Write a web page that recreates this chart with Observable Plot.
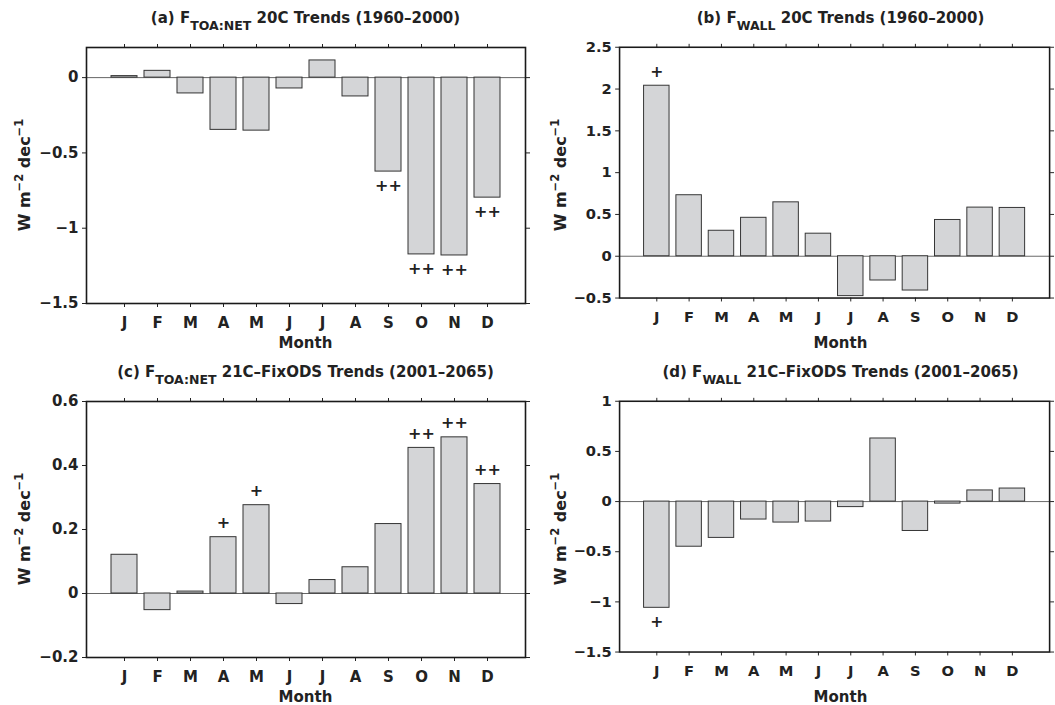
<!DOCTYPE html>
<html><head><meta charset="utf-8">
<script src="https://cdn.jsdelivr.net/npm/d3@7"></script>
<script src="https://cdn.jsdelivr.net/npm/@observablehq/plot@0.6"></script>
<style>
body{margin:0;background:#fff;}
#root{position:relative;width:1055px;height:705px;font-family:"DejaVu Sans",Arial,sans-serif;font-weight:bold;color:#222;overflow:hidden;background:#fff}
.title{position:absolute;font-size:15px;white-space:nowrap;transform:translate(-50%,-50%);line-height:1}
.title sub{font-size:12.5px;position:relative;top:7px;vertical-align:baseline}
.ylab{position:absolute;font-size:16px;white-space:nowrap;transform:translate(-50%,-50%) rotate(-90deg);line-height:1}
.ylab sup{font-size:11.5px;position:relative;top:-7px;vertical-align:baseline}
.xlab{position:absolute;font-size:15px;white-space:nowrap;transform:translate(-50%,-50%);line-height:1}
.panel{position:absolute}
</style>
</head><body><div id="root"></div>
<script>
// ---- data ----
const months = ["Jan","Feb","Mar","Apr","May","Jun","Jul","Aug","Sep","Oct","Nov","Dec"];
const monthLetters = ["J","F","M","A","M","J","J","A","S","O","N","D"];

const toaNet20C   = [0.01, 0.045, -0.105, -0.347, -0.352, -0.072, 0.114, -0.125, -0.624, -1.174, -1.181, -0.797];
const wall20C     = [2.04, 0.73, 0.305, 0.46, 0.645, 0.27, -0.477, -0.29, -0.41, 0.434, 0.582, 0.578];
const toaNet21C   = [0.121, -0.052, 0.006, 0.176, 0.276, -0.033, 0.042, 0.082, 0.217, 0.455, 0.488, 0.342];
const wall21C     = [-1.059, -0.45, -0.362, -0.179, -0.209, -0.199, -0.055, 0.629, -0.293, -0.02, 0.111, 0.13];

const sigToaNet20C = ["","","","","","","","","++","++","++","++"];
const sigWall20C   = ["+","","","","","","","","","","",""];
const sigToaNet21C = ["","","","+","+","","","","","++","++","++"];
const sigWall21C   = ["+","","","","","","","","","","",""];

const yDomainA = [-1.5, 0.2], yTicksA = [-1.5, -1, -0.5, 0];
const yDomainB = [-0.5, 2.5], yTicksB = [-0.5, 0, 0.5, 1, 1.5, 2, 2.5];
const yDomainC = [-0.2, 0.6], yTicksC = [-0.2, 0, 0.2, 0.4, 0.6];
const yDomainD = [-1.5, 1],   yTicksD = [-1.5, -1, -0.5, 0, 0.5, 1];

const titles = [
  ["(a) F", "TOA:NET", " 20C Trends (1960\u20132000)"],
  ["(b) F", "WALL", " 20C Trends (1960\u20132000)"],
  ["(c) F", "TOA:NET", " 21C\u2013FixODS Trends (2001\u20132065)"],
  ["(d) F", "WALL", " 21C\u2013FixODS Trends (2001\u20132065)"]
];

// ---- layout ----
const root = document.getElementById("root");
const fmt = v => (v < 0 ? "\u2212" : "") + String(Math.abs(v));
const FONT = '"DejaVu Sans", Arial, sans-serif';

function panel(cfg) {
  const rows = months.map((m, i) => ({month: m, value: cfg.values[i], sig: cfg.sig[i]}));
  const plot = Plot.plot({
    width: cfg.width, height: cfg.height,
    marginLeft: cfg.ml, marginRight: cfg.mr, marginTop: cfg.mt, marginBottom: cfg.mb,
    style: {fontFamily: FONT, fontSize: "15px", fontWeight: "bold", color: "#222", background: "transparent", overflow: "visible"},
    x: {type: "band", domain: months, paddingInner: 0.2, paddingOuter: 0.6, align: 0.5},
    y: {domain: cfg.yDomain},
    marks: [
      Plot.ruleY([0], {stroke: "#666", strokeWidth: 1}),
      Plot.barY(rows, {x: "month", y: "value", fill: "#d4d5d7", stroke: "#333", strokeWidth: 1}),
      Plot.text(rows.filter(d => d.sig && d.value < 0), {x: "month", y: "value", text: "sig", dy: 14, fontSize: 16, fontWeight: "bold", fill: "#222"}),
      Plot.text(rows.filter(d => d.sig && d.value >= 0), {x: "month", y: "value", text: "sig", dy: -14, fontSize: 16, fontWeight: "bold", fill: "#222"}),
      Plot.axisX({anchor: "bottom", tickSize: 4, tickPadding: 10, tickFormat: (d) => monthLetters[months.indexOf(d)], label: null, fontSize: 15}),
      Plot.axisX({anchor: "top", tickSize: 4, tickFormat: () => "", label: null}),
      Plot.axisY({anchor: "left", ticks: cfg.yTicks, tickSize: 4, tickPadding: 4, tickFormat: fmt, label: null, fontSize: 15}),
      Plot.axisY({anchor: "right", ticks: cfg.yTicks, tickSize: 4, tickFormat: () => "", label: null}),
      Plot.frame({stroke: "#1a1a1a", strokeWidth: 1.6})
    ]
  });
  const wrap = document.createElement("div");
  wrap.className = "panel";
  wrap.style.left = cfg.left + "px";
  wrap.style.top = cfg.top + "px";
  wrap.appendChild(plot);
  root.appendChild(wrap);

  const fx0 = cfg.left + cfg.ml, fx1 = cfg.left + cfg.width - cfg.mr;
  const fy0 = cfg.top + cfg.mt, fy1 = cfg.top + cfg.height - cfg.mb;
  const cx = (fx0 + fx1) / 2;

  const t = document.createElement("div");
  t.className = "title";
  t.innerHTML = `${cfg.title[0]}<sub>${cfg.title[1]}</sub>${cfg.title[2]}`;
  t.style.left = cx + "px";
  t.style.top = (fy0 - 29) + "px";
  root.appendChild(t);

  const yl = document.createElement("div");
  yl.className = "ylab";
  yl.innerHTML = "W m<sup>\u22122</sup> dec<sup>\u22121</sup>";
  yl.style.left = cfg.ylx + "px";
  yl.style.top = ((fy0 + fy1) / 2) + "px";
  root.appendChild(yl);

  const xl = document.createElement("div");
  xl.className = "xlab";
  xl.textContent = "Month";
  xl.style.left = cx + "px";
  xl.style.top = (fy1 + 40) + "px";
  root.appendChild(xl);
}

const L = {left: 0, width: 531, ml: 86, mr: 6, ylx: 25};
const R = {left: 527, width: 539, ml: 94, mr: 6, ylx: 561};
const T = {top: 36, height: 300, mt: 11, mb: 33};
const B = {top: 390, height: 300, mt: 11, mb: 33};

panel({...L, ...T, values: toaNet20C, sig: sigToaNet20C, yDomain: yDomainA, yTicks: yTicksA, title: titles[0]});
panel({...R, ...T, values: wall20C, sig: sigWall20C, yDomain: yDomainB, yTicks: yTicksB, title: titles[1]});
panel({...L, ...B, values: toaNet21C, sig: sigToaNet21C, yDomain: yDomainC, yTicks: yTicksC, title: titles[2]});
panel({...R, ...B, values: wall21C, sig: sigWall21C, yDomain: yDomainD, yTicks: yTicksD, title: titles[3]});
</script>
</body></html>
